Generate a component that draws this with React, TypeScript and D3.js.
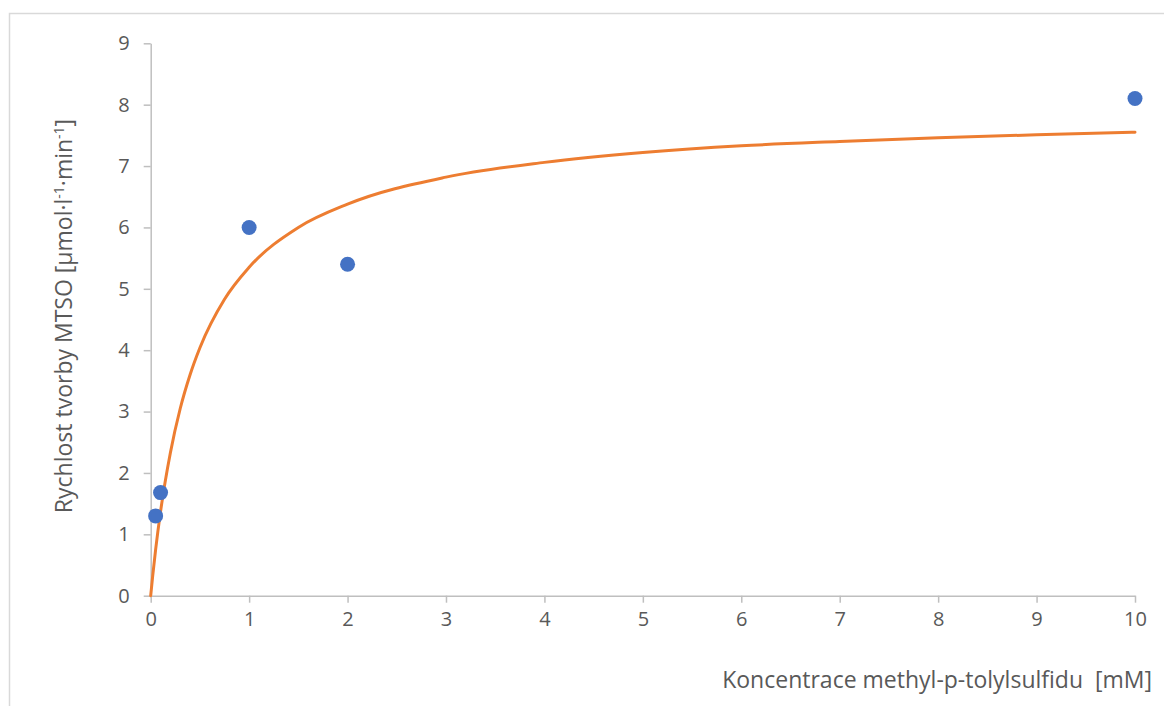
import React, { useRef, useEffect } from "react";
import * as d3 from "d3";

// measured points
const concentration = [0.05, 0.1, 1, 2, 10];
const rate = [1.3, 1.68, 6.0, 5.4, 8.1];

// fitted curve
const curveX = [0, 0.02, 0.05, 0.1, 0.2, 0.3, 0.4, 0.5, 0.75, 1, 1.5, 2, 3, 4, 5, 6, 7, 8, 9, 10];
const curveY = [0, 0.32, 0.75, 1.37, 2.33, 3.05, 3.6, 4.04, 4.83, 5.35, 6.0, 6.38, 6.82, 7.06, 7.22, 7.33, 7.4, 7.46, 7.51, 7.55];

const xTicks = [0, 1, 2, 3, 4, 5, 6, 7, 8, 9, 10];
const yTicks = [0, 1, 2, 3, 4, 5, 6, 7, 8, 9];

const W = 1164;
const H = 706;
const FONT = "'Open Sans', 'Noto Sans', sans-serif";

const App = () => {
  const svgRef = useRef<SVGSVGElement>(null);

  useEffect(() => {
    const svg = d3.select(svgRef.current);
    svg.selectAll("*").remove();

    const x = d3.scaleLinear().domain([0, 10]).range([150.7, 1135]);
    const y = d3.scaleLinear().domain([0, 9]).range([595.7, 43.3]);

    // chart frame
    svg
      .append("rect")
      .attr("x", 9.5)
      .attr("y", 13.5)
      .attr("width", W + 20)
      .attr("height", H + 20)
      .attr("fill", "#fff")
      .attr("stroke", "#d9d9d9")
      .attr("stroke-width", 1.5);

    // axes
    const xAxis = svg
      .append("g")
      .attr("transform", `translate(0,${y(0)})`)
      .call(d3.axisBottom(x).tickValues(xTicks).tickSize(7).tickPadding(9).tickSizeOuter(0));
    const yAxis = svg
      .append("g")
      .attr("transform", `translate(${x(0)},0)`)
      .call(d3.axisLeft(y).tickValues(yTicks).tickSize(7).tickPadding(14).tickSizeOuter(0));

    [xAxis, yAxis].forEach((g) => {
      g.select(".domain").attr("stroke", "#bfbfbf").attr("stroke-width", 1.5);
      g.selectAll(".tick line").attr("stroke", "#bfbfbf").attr("stroke-width", 1.5);
      g.selectAll(".tick text")
        .attr("fill", "#595959")
        .style("font-family", FONT)
        .style("font-size", "20px");
    });

    // fitted curve
    const pts: [number, number][] = curveX.map((v, i) => [v, curveY[i]]);
    svg
      .append("path")
      .datum(pts)
      .attr("fill", "none")
      .attr("stroke", "#ED7D31")
      .attr("stroke-width", 3)
      .attr("stroke-linecap", "round")
      .attr(
        "d",
        d3
          .line<[number, number]>()
          .x((d) => x(d[0]))
          .y((d) => y(d[1]))
          .curve(d3.curveMonotoneX)
      );

    // points
    svg
      .selectAll("circle.pt")
      .data(concentration)
      .enter()
      .append("circle")
      .attr("class", "pt")
      .attr("cx", (d) => x(d))
      .attr("cy", (d, i) => y(rate[i]))
      .attr("r", 7.5)
      .attr("fill", "#4472C4");

    // axis labels
    svg
      .append("text")
      .attr("x", 1152)
      .attr("y", 688)
      .attr("text-anchor", "end")
      .attr("fill", "#595959")
      .style("font-family", FONT)
      .style("font-size", "23px")
      .text("Koncentrace methyl-p-tolylsulfidu\u00a0\u00a0[mM]");

    const yl = svg
      .append("text")
      .attr("transform", "translate(72,316) rotate(-90)")
      .attr("text-anchor", "middle")
      .attr("fill", "#595959")
      .style("font-family", FONT)
      .style("font-size", "23px");
    yl.append("tspan").text("Rychlost tvorby MTSO [µmol·l");
    yl.append("tspan").attr("dy", -8).style("font-size", "14px").text("-1");
    yl.append("tspan").attr("dy", 8).text("·min");
    yl.append("tspan").attr("dy", -8).style("font-size", "14px").text("-1");
    yl.append("tspan").attr("dy", 8).text("]");
  }, []);

  return (
    <svg
      ref={svgRef}
      width={W}
      height={H}
      style={{ position: "fixed", left: 0, top: 0, background: "#fff" }}
    ></svg>
  );
};

export default App;
